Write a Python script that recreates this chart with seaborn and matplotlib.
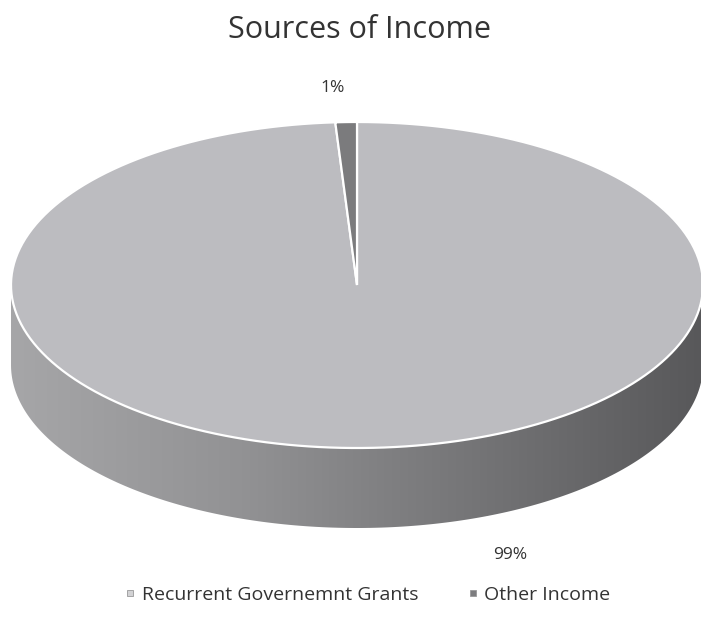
"""
Sources of Income - 3D style pie redrawn with matplotlib/seaborn
"""
import numpy as np
import matplotlib
matplotlib.use("Agg")
import matplotlib.pyplot as plt
from matplotlib.patches import Polygon
from matplotlib.lines import Line2D
import seaborn as sns

sns.set_theme(style="white")
plt.rcParams['font.family'] = ['Open Sans', 'DejaVu Sans']

# data
labels = ["Recurrent Governemnt Grants", "Other Income"]
shares = [99, 1]
pct_text = ["99%", "1%"]
slice_colors = ["#bcbcc0", "#7b7b7d"]
legend_colors = ["#d2d2d4", "#7d7d7f"]

# pie geometry (pixel coords, y pointing down)
cx, cy = 357, 285
rx, ry = 346, 163
depth = 80


def ellipse_pts(t0, t1, dy=0, n=200):
    # angles in degrees, clockwise from 12 o'clock
    t = np.radians(np.linspace(t0, t1, n))
    return np.column_stack([cx + rx * np.sin(t), cy - ry * np.cos(t) + dy])


fig = plt.figure(figsize=(7.01, 6.29), dpi=100)
ax = fig.add_axes([0, 0, 1, 1])
ax.set_xlim(0, 701)
ax.set_ylim(629, 0)
ax.axis("off")

# side wall (front half of the cylinder) with a horizontal shading gradient
side = np.vstack([ellipse_pts(90, 270), ellipse_pts(270, 90, dy=depth)])
side_patch = Polygon(side, closed=True, facecolor="none", edgecolor="none")
ax.add_patch(side_patch)
cmap = sns.blend_palette(["#a6a6a8", "#929294", "#757577", "#58585a"], as_cmap=True)
grad = np.linspace(0, 1, 256).reshape(1, -1)
im = ax.imshow(grad, cmap=cmap, extent=[cx - rx, cx + rx, cy + ry + depth, cy - 5],
               aspect="auto", zorder=1)
im.set_clip_path(side_patch)

# top face wedges
start = 0.0
total = sum(shares)
for val, col in zip(shares, slice_colors):
    end = start + 360.0 * val / total
    pts = np.vstack([[cx, cy], ellipse_pts(start, end)])
    ax.add_patch(Polygon(pts, closed=True, facecolor=col, edgecolor="white",
                         linewidth=1.6, zorder=2))
    start = end

# data labels
ax.text(333, 88, pct_text[1], ha="center", va="center", fontsize=12.5, color="#333333")
ax.text(510, 555, pct_text[0], ha="center", va="center", fontsize=12.5, color="#333333")

# title
ax.text(360, 30, "Sources of Income", ha="center", va="center", fontsize=22, color="#333333")

# legend
handles = [Line2D([], [], marker="s", linestyle="none", markersize=4.5,
                  markerfacecolor=c, markeredgecolor="#999999", markeredgewidth=0.6)
           for c in legend_colors]
fig.legend(handles, labels, loc="center", bbox_to_anchor=(0.52, 0.054), ncol=2,
           frameon=False, fontsize=14, handletextpad=0.0, columnspacing=2.2,
           handlelength=1.2, labelcolor="#333333")

fig.savefig("out.png", dpi=100)
plt.close(fig)
